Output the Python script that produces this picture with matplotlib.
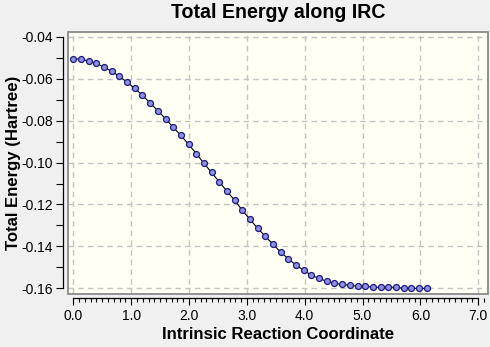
import matplotlib
matplotlib.use("Agg")
import matplotlib.pyplot as plt
from matplotlib.patches import Rectangle
from matplotlib.ticker import MultipleLocator, FormatStrFormatter

plt.rcParams['font.family'] = ['Liberation Sans', 'DejaVu Sans']

# IRC path: reaction coordinate and total energy (Hartree)
irc_coord = [0.000, 0.133, 0.266, 0.398, 0.531, 0.664, 0.797, 0.930, 1.062, 1.195,
             1.328, 1.461, 1.594, 1.726, 1.859, 1.992, 2.125, 2.258, 2.390, 2.523,
             2.656, 2.789, 2.922, 3.054, 3.187, 3.320, 3.453, 3.586, 3.718, 3.851,
             3.984, 4.117, 4.250, 4.382, 4.515, 4.648, 4.781, 4.914, 5.046, 5.179,
             5.312, 5.445, 5.578, 5.710, 5.843, 5.976, 6.109]
energy = [-0.0506, -0.0506, -0.0517, -0.0527, -0.0545, -0.0565, -0.0589, -0.0617,
          -0.0646, -0.0679, -0.0716, -0.0753, -0.0791, -0.0832, -0.0870, -0.0913,
          -0.0957, -0.1004, -0.1047, -0.1092, -0.1137, -0.1180, -0.1228, -0.1271,
          -0.1314, -0.1352, -0.1390, -0.1428, -0.1459, -0.1490, -0.1514, -0.1538,
          -0.1552, -0.1567, -0.1576, -0.1581, -0.1586, -0.1590, -0.1590, -0.1595,
          -0.1595, -0.1595, -0.1595, -0.1600, -0.1600, -0.1600, -0.1600]

title = "Total Energy along IRC"
x_label = "Intrinsic Reaction Coordinate"
y_label = "Total Energy (Hartree)"

fig = plt.figure(figsize=(4.9, 3.47), dpi=100, facecolor='#f0f0f0')
ax = fig.add_axes([0.1388, 0.1527, 0.858, 0.7559])
ax.set_facecolor('#fffff4')

ax.plot(irc_coord, energy, color='black', lw=0.8, marker='o', markersize=4.3,
        markerfacecolor='#8f8fe3', markeredgecolor='#1c1c7a', markeredgewidth=0.9,
        zorder=3)

ax.set_xlim(-0.0916, 7.176)
ax.set_ylim(-0.1627, -0.0376)

ax.xaxis.set_major_locator(MultipleLocator(1.0))
ax.xaxis.set_minor_locator(MultipleLocator(0.1))
ax.yaxis.set_major_locator(MultipleLocator(0.02))
ax.yaxis.set_minor_locator(MultipleLocator(0.01))
ax.xaxis.set_major_formatter(FormatStrFormatter('%.1f'))
ax.yaxis.set_major_formatter(FormatStrFormatter('%.2f'))

ax.grid(True, which='major', color='#c4c4c4', lw=1.0, linestyle=(0, (4, 3)))
ax.set_axisbelow(True)

for s in ('top', 'right'):
    ax.spines[s].set_visible(False)
ax.spines['left'].set_position(('outward', 3.6))
ax.spines['bottom'].set_position(('outward', 3.1))
ax.spines['left'].set_bounds(-0.16, -0.04)
ax.spines['bottom'].set_bounds(0.0, 7.0)
for s in ('left', 'bottom'):
    ax.spines[s].set_linewidth(0.9)
    ax.spines[s].set_color('black')

ax.tick_params(axis='x', which='major', length=4.8, width=0.8, pad=3.2,
               labelsize=10, direction='out')
ax.tick_params(axis='x', which='minor', length=2.9, width=0.8, direction='out')
ax.tick_params(axis='y', which='both', length=4.8, width=0.8, pad=2.6,
               labelsize=10, direction='out')

# plot-area frame
ax.add_patch(Rectangle((0, 0), 1, 1, transform=ax.transAxes, fill=False,
                       edgecolor='#8a8a8a', lw=1.3, clip_on=False, zorder=4))

fig.text(0.568, 0.963, title, ha='center', va='center', fontsize=14.1,
         fontweight='bold')
fig.text(0.568, 0.035, x_label, ha='center', va='center', fontsize=12.1,
         fontweight='bold')
fig.text(0.027, 0.53, y_label, ha='center', va='center', fontsize=12.1,
         fontweight='bold', rotation=90)

fig.savefig('out.png', dpi=100, facecolor=fig.get_facecolor())
